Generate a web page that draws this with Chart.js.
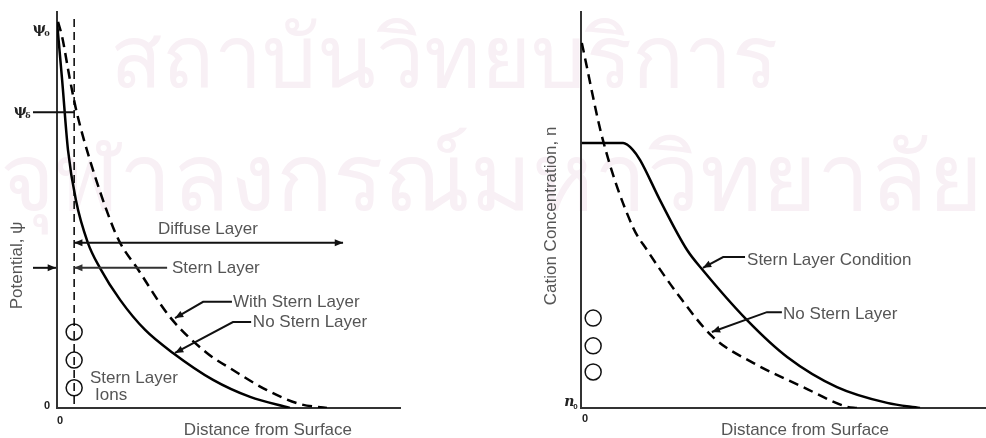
<!DOCTYPE html>
<html lang="en">
<head>
<meta charset="UTF-8">
<title>Stern Layer: Potential and Cation Concentration</title>
<script src="https://cdn.jsdelivr.net/npm/chart.js"></script>
<style>
  body { margin: 0; background: #fff; width: 986px; height: 438px; overflow: hidden; position: relative; }
  canvas { position: absolute; top: 0; z-index: 1; }
  #potentialChart { left: 0; }
  #cationChart { left: 493px; }
  .wm { position: absolute; z-index: 0; color: #f8f0f5; font-family: 'Noto Sans', 'DejaVu Sans', sans-serif; white-space: nowrap; line-height: 1; }
</style>
</head>
<body>
<div class="wm" style="left:110px; top:11px; font-size:86px;">สถาบันวิทยบริการ</div>
<div class="wm" style="left:0px; top:127px; font-size:94px;">จุฬาลงกรณ์มหาวิทยาลัย</div>
<canvas id="potentialChart" width="493" height="438"></canvas>
<canvas id="cationChart" width="493" height="438"></canvas>

<script>
// ---- left panel: potential vs distance (arbitrary units, 0-100) ----
const noSternX   = [0, 1.5, 3.2, 5.5, 9.0, 12.5, 18.4, 25.7, 33.8, 45.5, 56.3, 67.9];
const noSternPsi = [97.5, 82.8, 65.2, 52.5, 41.7, 35.4, 27.3, 19.7, 13.9, 7.1, 2.8, 0];
const withSternX   = [0.3, 1.5, 3.8, 5.8, 9.6, 15.5, 18.4, 23.3, 32.9, 43.7, 51.3, 61.2, 70.8, 78.7];
const withSternPsi = [97.5, 93.7, 82.8, 74.5, 62.6, 47.5, 41.7, 35.4, 23.0, 13.9, 9.6, 4.5, 1.0, 0];
const sternPlaneX = 5.0;
const sternPlaneY = [1, 99];
const ionsLeftY = [19.2, 12.1, 5.1];
const psiDelta = 74.7;

// ---- right panel: cation concentration vs distance ----
const noSternConcX = [0.2, 5.4, 12.8, 16.3, 23.7, 32.6, 42.5, 54.8, 65.7, 68.1];
const noSternConcN = [92.2, 67.7, 45.7, 39.9, 29.0, 17.9, 11.4, 5.3, 0.3, 0];
const sternCondX = [0.2, 10.4, 12.8, 14.6, 19.5, 26.2, 30.1, 41.0, 50.9, 63.2, 75.6, 83.7];
const sternCondN = [66.9, 66.9, 65.2, 62.6, 52.5, 39.9, 34.8, 22.2, 12.9, 5.3, 1.3, 0];
const ionsRightX = 3.0;
const ionsRightY = [22.7, 15.7, 9.1];

const TEXT = '#555';
const FONT = '"Liberation Sans", Arial, sans-serif';

function pts(xs, ys) { return xs.map((x, i) => ({ x: x, y: ys[i] })); }

function arrowHead(ctx, x1, y1, x2, y2, size) {
    const a = Math.atan2(y2 - y1, x2 - x1);
    ctx.beginPath();
    ctx.moveTo(x2, y2);
    ctx.lineTo(x2 - size * Math.cos(a - 0.4), y2 - size * Math.sin(a - 0.4));
    ctx.lineTo(x2 - size * Math.cos(a + 0.4), y2 - size * Math.sin(a + 0.4));
    ctx.closePath();
    ctx.fill();
}

// draws labels, leaders and arrows given in data units
const notesPlugin = {
    id: 'notes',
    afterDraw(chart, args, opts) {
        const ctx = chart.ctx, sx = chart.scales.x, sy = chart.scales.y;
        const X = v => sx.getPixelForValue(v), Y = v => sy.getPixelForValue(v);
        ctx.save();
        (opts.items || []).forEach(it => {
            if (it.type === 'text') {
                ctx.fillStyle = it.color || TEXT;
                ctx.font = it.font || ('17px ' + FONT);
                ctx.textAlign = it.align || 'left';
                ctx.textBaseline = 'middle';
                if (it.rotate) {
                    ctx.save();
                    ctx.translate(X(it.x), Y(it.y));
                    ctx.rotate(-Math.PI / 2);
                    ctx.fillText(it.text, 0, 0);
                    ctx.restore();
                } else {
                    ctx.fillText(it.text, X(it.x), Y(it.y));
                }
            } else if (it.type === 'path') {
                ctx.strokeStyle = it.color || '#111';
                ctx.fillStyle = it.color || '#111';
                ctx.lineWidth = it.width || 2;
                ctx.beginPath();
                it.pts.forEach((p, i) => i ? ctx.lineTo(X(p[0]), Y(p[1])) : ctx.moveTo(X(p[0]), Y(p[1])));
                ctx.stroke();
                const n = it.pts.length;
                if (it.head) {
                    arrowHead(ctx, X(it.pts[n - 2][0]), Y(it.pts[n - 2][1]), X(it.pts[n - 1][0]), Y(it.pts[n - 1][1]), 9);
                }
                if (it.tail) {
                    arrowHead(ctx, X(it.pts[1][0]), Y(it.pts[1][1]), X(it.pts[0][0]), Y(it.pts[0][1]), 9);
                }
            }
        });
        ctx.restore();
    }
};

function axes(xMax) {
    const common = {
        type: 'linear', min: 0, max: 100,
        grid: { display: false, drawTicks: false },
        ticks: { display: false },
        border: { display: true, color: '#333', width: 2 }
    };
    return { x: Object.assign({}, common, { max: xMax }), y: Object.assign({}, common) };
}

const baseOptions = {
    responsive: false,
    animation: false,
    events: [],
    plugins: { legend: { display: false }, tooltip: { enabled: false } }
};

new Chart(document.getElementById('potentialChart'), {
    type: 'line',
    data: {
        datasets: [
            { label: 'No Stern Layer', data: pts(noSternX, noSternPsi), borderColor: '#000', borderWidth: 2.5,
              pointRadius: 0, cubicInterpolationMode: 'monotone' },
            { label: 'With Stern Layer', data: pts(withSternX, withSternPsi), borderColor: '#000', borderWidth: 2.5,
              borderDash: [10, 6], pointRadius: 0, cubicInterpolationMode: 'monotone' },
            { label: 'Stern plane', data: sternPlaneY.map(y => ({ x: sternPlaneX, y: y })), borderColor: '#000',
              borderWidth: 1.5, borderDash: [8, 5], pointRadius: 0 },
            { label: 'Stern Layer Ions', data: ionsLeftY.map(y => ({ x: sternPlaneX, y: y })), showLine: false,
              pointStyle: 'circle', pointRadius: 8, pointBorderWidth: 1.5, pointBorderColor: '#111',
              pointBackgroundColor: 'rgba(0,0,0,0)' }
        ]
    },
    options: Object.assign({}, baseOptions, {
        layout: { autoPadding: false, padding: { left: 57, right: 93, top: 12, bottom: 30 } },
        scales: axes(100),
        plugins: Object.assign({}, baseOptions.plugins, {
            notes: { items: [
                { type: 'text', text: 'ψ', x: -3.2, y: 95.5, align: 'right', color: '#222', font: 'bold 14px "DejaVu Serif", serif' },
                { type: 'text', text: '0', x: -2.1, y: 94.4, align: 'right', color: '#222', font: 'bold 8px "DejaVu Serif", serif' },
                { type: 'text', text: 'ψ', x: -8.8, y: 74.9, align: 'right', color: '#222', font: 'bold 14px "DejaVu Serif", serif' },
                { type: 'text', text: 'δ', x: -7.7, y: 73.8, align: 'right', color: '#222', font: 'bold 8px "DejaVu Serif", serif' },
                { type: 'path', pts: [[-7.0, psiDelta], [sternPlaneX, psiDelta]], width: 2 },
                { type: 'text', text: 'Diffuse Layer', x: 44, y: 45.2, align: 'center' },
                { type: 'path', pts: [[sternPlaneX, 41.7], [83.4, 41.7]], width: 2, head: true, tail: true },
                { type: 'path', pts: [[-7.0, 35.4], [-0.3, 35.4]], width: 2, head: true },
                { type: 'path', pts: [[sternPlaneX, 35.4], [32.1, 35.4]], width: 2, tail: true, color: '#333' },
                { type: 'text', text: 'Stern Layer', x: 33.5, y: 35.4 },
                { type: 'path', pts: [[51.0, 26.8], [42.6, 26.8], [34.4, 22.7]], width: 2, head: true },
                { type: 'text', text: 'With Stern Layer', x: 51.3, y: 26.8 },
                { type: 'path', pts: [[56.6, 21.7], [51.3, 21.7], [34.4, 13.9]], width: 2, head: true },
                { type: 'text', text: 'No Stern Layer', x: 57.1, y: 21.7 },
                { type: 'text', text: 'Stern Layer', x: 9.6, y: 7.4 },
                { type: 'text', text: 'Ions', x: 11.1, y: 3.3 },
                { type: 'text', text: '0', x: -2.0, y: 0.6, align: 'right', color: '#222', font: 'bold 11px ' + FONT },
                { type: 'text', text: '0', x: 0.9, y: -3.4, align: 'center', color: '#222', font: 'bold 11px ' + FONT },
                { type: 'text', text: 'Distance from Surface', x: 61.5, y: -5.6, align: 'center' },
                { type: 'text', text: 'Potential, ψ', x: -11.6, y: 36, align: 'center', rotate: true }
            ] }
        })
    }),
    plugins: [notesPlugin]
});

new Chart(document.getElementById('cationChart'), {
    type: 'line',
    data: {
        datasets: [
            { label: 'Stern Layer Condition', data: pts(sternCondX, sternCondN), borderColor: '#000', borderWidth: 2.5,
              pointRadius: 0, cubicInterpolationMode: 'monotone' },
            { label: 'No Stern Layer', data: pts(noSternConcX, noSternConcN), borderColor: '#000', borderWidth: 2.5,
              borderDash: [10, 6], pointRadius: 0, cubicInterpolationMode: 'monotone' },
            { label: 'Ions', data: ionsRightY.map(y => ({ x: ionsRightX, y: y })), showLine: false,
              pointStyle: 'circle', pointRadius: 8, pointBorderWidth: 1.5, pointBorderColor: '#111',
              pointBackgroundColor: 'rgba(0,0,0,0)' }
        ]
    },
    options: Object.assign({}, baseOptions, {
        layout: { autoPadding: false, padding: { left: 88, right: 0, top: 12, bottom: 30 } },
        scales: axes(100),
        plugins: Object.assign({}, baseOptions.plugins, {
            notes: { items: [
                { type: 'path', pts: [[40.5, 38.1], [35.1, 38.1], [30.1, 35.4]], width: 2, head: true },
                { type: 'text', text: 'Stern Layer Condition', x: 41.0, y: 37.4 },
                { type: 'path', pts: [[49.6, 24.2], [45.9, 24.2], [32.3, 19.2]], width: 2, head: true },
                { type: 'text', text: 'No Stern Layer', x: 49.9, y: 23.7 },
                { type: 'text', text: 'n', x: -1.6, y: 1.3, align: 'right', color: '#222', font: 'italic bold 14px "DejaVu Serif", serif' },
                { type: 'text', text: '0', x: -0.8, y: 0.3, align: 'right', color: '#222', font: 'bold 8px ' + FONT },
                { type: 'text', text: '0', x: 1.0, y: -2.8, align: 'center', color: '#222', font: 'bold 11px ' + FONT },
                { type: 'text', text: 'Distance from Surface', x: 55.3, y: -5.6, align: 'center' },
                { type: 'text', text: 'Cation Concentration, n', x: -7.4, y: 48.5, align: 'center', rotate: true }
            ] }
        })
    }),
    plugins: [notesPlugin]
});
</script>
</body>
</html>
